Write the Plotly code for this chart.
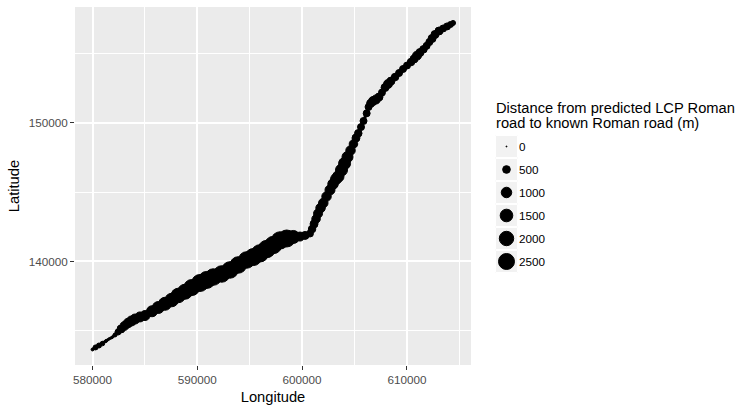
import numpy as np
import plotly.graph_objects as go

# predicted LCP road (British National Grid, metres)
lon = [580000, 580290, 580620, 580950, 581290, 581570, 581860, 582150, 582430, 582720,
       583050, 583390, 583720, 584060, 584530, 585010, 585680, 586280, 586920, 587560,
       588190, 588830, 589470, 590260, 590900, 591530, 592330, 593120, 593910, 594710,
       595340, 595980, 596620, 597250, 597890, 598530, 599160, 599800, 600280,
       600750, 600950, 601140, 601330, 601520, 601760, 602020, 602330, 602660, 602950,
       603240, 603450, 603760, 604050, 604330, 604620, 604900, 605140, 605360, 605620,
       605860, 606160, 606340,
       606530, 606770, 607050, 607340, 607620, 607910, 608200, 608480, 608870, 609250,
       609630, 610010, 610390, 610680, 610960, 611250, 611580, 611880, 612140, 612400,
       612680, 613060, 613450, 613830, 614160, 614400]

lat = [133650, 133800, 133940, 134080, 134260, 134410, 134520, 134700, 134910, 135130,
       135350, 135560, 135710, 135850, 136000, 136100, 136410, 136680, 136950, 137220,
       137550, 137820, 138120, 138450, 138670, 138880, 139100, 139390, 139750, 140110,
       140320, 140590, 140900, 141190, 141520, 141660, 141770, 141800, 141880,
       142020, 142340, 142710, 143070, 143460, 143860, 144220, 144690, 145160, 145590,
       145950, 146130, 146600, 147070, 147540, 148010, 148480, 148910, 149250, 149700,
       150140, 150690, 151150,
       151400, 151580, 151690, 151870, 152190, 152550, 152810, 153020, 153310, 153600,
       153890, 154140, 154390, 154610, 154850, 155080, 155310, 155560, 155830, 156090,
       156380, 156630, 156810, 156960, 157100, 157210]

# distance from predicted LCP road to known Roman road (m)
dist = [40, 180, 180, 140, 40, 10, 10, 100, 280, 540,
        710, 800, 900, 900, 900, 900, 1110, 1340, 1600, 1740,
        2030, 2180, 2500, 2840, 2840, 2670, 2670, 2670, 2670, 2670,
        2840, 2950, 2950, 2950, 2950, 2840, 1600, 710, 540,
        400, 470, 540, 630, 710, 800, 800, 800, 900, 1000,
        1110, 1220, 1340, 1340, 1110, 800, 630, 540, 470, 400,
        400, 400, 400,
        540, 710, 710, 540, 400, 540, 710, 540, 470, 400,
        400, 400, 470, 540, 710, 540, 470, 400, 400, 540,
        540, 540, 400, 400, 280, 180]

legend_breaks = [0, 500, 1000, 1500, 2000, 2500]
legend_title = ['Distance from predicted LCP Roman', 'road to known Roman road (m)']

FONT = 'Liberation Sans, Arial, sans-serif'


def dot_size(v):
    # area-style size scale, like ggplot's scale_size
    return 1 + 15 * np.sqrt(np.asarray(v, dtype=float) / 2500)


fig = go.Figure()

fig.add_trace(go.Scatter(
    x=lon, y=lat,
    mode='lines+markers',
    line=dict(color='black', width=3),
    marker=dict(size=dot_size(dist), color='black', opacity=1,
                line=dict(color='black', width=1)),
    hoverinfo='skip',
    showlegend=False,
))

# legend drawn as a tiny subplot
cats = [str(b) for b in legend_breaks]
fig.add_trace(go.Scatter(
    x=[0] * len(cats), y=cats,
    mode='markers',
    marker=dict(symbol='square', size=22, color='#F2F2F2', opacity=1,
                line=dict(color='white', width=1)),
    xaxis='x2', yaxis='y2', hoverinfo='skip', showlegend=False,
))
fig.add_trace(go.Scatter(
    x=[0] * len(cats), y=cats,
    mode='markers',
    marker=dict(size=dot_size(legend_breaks), color='black', opacity=1,
                line=dict(color='black', width=1)),
    xaxis='x2', yaxis='y2', hoverinfo='skip', showlegend=False,
))

fig.update_layout(
    width=750, height=413,
    margin=dict(l=75, r=0, t=7, b=48),
    paper_bgcolor='white',
    plot_bgcolor='#EBEBEB',
    font=dict(family=FONT, color='black'),
    showlegend=False,
    xaxis=dict(
        domain=[0, 0.5867],
        range=[578330, 616117],
        tick0=580000, dtick=10000, tickformat='d',
        ticks='outside', ticklen=4, tickcolor='#333333', tickwidth=1,
        tickfont=dict(size=11.7, color='#4D4D4D'),
        showgrid=True, gridcolor='white', gridwidth=1.5,
        minor=dict(dtick=5000, tick0=575000, showgrid=True, gridcolor='white', gridwidth=0.8, ticks=''),
        zeroline=False, showline=False,
        title=dict(text='Longitude', font=dict(size=14.7, color='black'), standoff=6),
    ),
    yaxis=dict(
        range=[132532, 158362],
        tick0=0, dtick=10000, tickformat='d',
        ticks='outside', ticklen=4, tickcolor='#333333', tickwidth=1,
        tickfont=dict(size=11.7, color='#4D4D4D'),
        showgrid=True, gridcolor='white', gridwidth=1.5,
        minor=dict(dtick=5000, tick0=0, showgrid=True, gridcolor='white', gridwidth=0.8, ticks=''),
        zeroline=False, showline=False,
        title=dict(text='Latitude', font=dict(size=14.7, color='black'), standoff=5),
    ),
    xaxis2=dict(
        domain=[0.6222, 0.6563], anchor='y2', range=[-1, 1],
        showgrid=False, zeroline=False, showticklabels=False, ticks='', showline=False,
    ),
    yaxis2=dict(
        domain=[0.257, 0.6425], anchor='x2', side='right',
        type='category', categoryorder='array', categoryarray=cats,
        range=[5.5, -0.5],
        showgrid=False, zeroline=False, ticks='', showline=False,
        tickfont=dict(size=11.7, color='black'),
    ),
)

for i, line in enumerate(legend_title):
    fig.add_annotation(
        text=line, xref='paper', yref='paper',
        x=0.6207, y=0.7185 - i * 0.0433,
        xanchor='left', yanchor='middle', showarrow=False,
        font=dict(size=14.7, color='black', family=FONT),
    )

# drop the page's default body margin so the 750x413 figure sits at 0,0
fig.write_html('out.html', config={'displayModeBar': False},
               post_script="document.body.style.margin='0px';")
